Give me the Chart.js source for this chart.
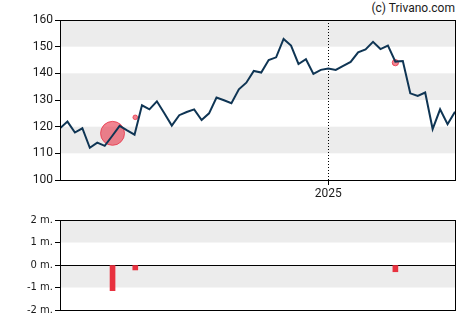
<!DOCTYPE html>
<html>
<head>
<meta charset="utf-8">
<script src="https://cdn.jsdelivr.net/npm/chart.js@4/dist/chart.umd.min.js"></script>
<style>
  body { margin: 0; background: #fff; }
  #wrap { position: relative; width: 470px; height: 325px; }
  #priceBox { position: absolute; left: 0; top: 0; width: 470px; height: 205px; }
  #volBox { position: absolute; left: 0; top: 205px; width: 470px; height: 120px; }
  #credit { position: absolute; right: 15px; top: 1px; font: 12px Roboto, sans-serif; color: #1a1a1a; }
</style>
</head>
<body>
<div id="wrap">
  <div id="credit">(c) Trivano.com</div>
  <div id="priceBox"><canvas id="priceChart"></canvas></div>
  <div id="volBox"><canvas id="volChart"></canvas></div>
</div>
<script>
// weekly closing prices
const prices = [119.4, 121.9, 117.8, 119.4, 112.1, 114.0, 112.8, 116.5, 120.3, 118.6,
  117.0, 128.0, 126.5, 129.5, 125.0, 120.4, 124.3, 125.5, 126.5, 122.5,
  125.0, 130.9, 129.9, 128.8, 134.0, 136.5, 140.9, 140.3, 145.0, 146.0,
  152.9, 150.4, 143.5, 145.3, 139.8, 141.3, 141.8, 141.3, 142.8, 144.3,
  147.9, 149.0, 151.8, 149.1, 150.4, 144.4, 144.6, 132.5, 131.5, 132.8,
  119.1, 126.5, 120.9, 125.6];

const yearTicks = [36.0];
const yearLabels = ["2025"];

// insider trades (week, price, volume in millions)
const tradeWeek = [7.05, 10.1, 45.0];
const tradePrice = [117.5, 123.5, 144.0];
const tradeVolume = [-1.14, -0.22, -0.30];

const priceBands = [[150, 160], [130, 140], [110, 120]];
const volBands = [[1, 2], [-1, 0]];

const bandsPlugin = {
  id: "bands",
  beforeDraw(chart, args, opts) {
    const { ctx, chartArea, scales } = chart;
    ctx.save();
    ctx.fillStyle = "#ececec";
    opts.ranges.forEach(r => {
      const y1 = scales.y.getPixelForValue(r[1]);
      const y0 = scales.y.getPixelForValue(r[0]);
      ctx.fillRect(chartArea.left, y1, chartArea.right - chartArea.left, y0 - y1);
    });
    ctx.restore();
  }
};

const boxPlugin = {
  id: "box",
  afterDraw(chart) {
    const { ctx, chartArea } = chart;
    ctx.save();
    ctx.strokeStyle = "#000";
    ctx.lineWidth = 1;
    ctx.strokeRect(Math.round(chartArea.left) + 0.5, Math.round(chartArea.top) + 0.5,
      Math.round(chartArea.right - chartArea.left), Math.round(chartArea.bottom - chartArea.top));
    ctx.restore();
  }
};

const xMax = prices.length - 1;

new Chart(document.getElementById("priceChart"), {
  type: "line",
  data: {
    datasets: [
      {
        type: "line",
        data: prices.map((v, i) => ({ x: i, y: v })),
        borderColor: "#0f3554",
        borderWidth: 2,
        pointRadius: 0,
        tension: 0,
        order: 0
      },
      {
        type: "bubble",
        data: tradeWeek.map((w, i) => ({ x: w, y: tradePrice[i], r: Math.abs(tradeVolume[i]) * 10.5 })),
        backgroundColor: "rgba(232, 52, 72, 0.6)",
        borderColor: "rgba(232, 52, 72, 0.8)",
        borderWidth: 1,
        order: 1
      }
    ]
  },
  options: {
    animation: false,
    responsive: true,
    maintainAspectRatio: false,
    layout: { padding: { top: 20, right: 15, left: 0, bottom: 0 } },
    plugins: {
      legend: { display: false },
      tooltip: { enabled: false },
      bands: { ranges: priceBands }
    },
    scales: {
      x: {
        type: "linear",
        min: 0,
        max: xMax,
        afterBuildTicks: scale => { scale.ticks = yearTicks.map(v => ({ value: v })); },
        afterFit: scale => { scale.height = 25; },
        ticks: {
          autoSkip: false,
          maxRotation: 0,
          padding: 2,
          color: "#1a1a1a",
          font: { family: "Roboto", size: 12 },
          callback: (v, i) => yearLabels[i]
        },
        grid: { color: "#000", tickColor: "#000", tickLength: 5, lineWidth: 1 },
        border: { color: "#000", width: 1, dash: [1, 2] }
      },
      y: {
        min: 100,
        max: 160,
        afterFit: scale => { scale.width = 60; },
        ticks: {
          stepSize: 10,
          padding: 2,
          color: "#1a1a1a",
          font: { family: "Roboto", size: 12 }
        },
        grid: { drawOnChartArea: false, tickColor: "#000", tickLength: 5 },
        border: { color: "#000", width: 1 }
      }
    }
  },
  plugins: [bandsPlugin, boxPlugin]
});

new Chart(document.getElementById("volChart"), {
  type: "bar",
  data: {
    datasets: [{
      data: tradeWeek.map((w, i) => ({ x: w, y: tradeVolume[i] })),
      backgroundColor: "#e8313f",
      barThickness: 5
    }]
  },
  options: {
    animation: false,
    responsive: true,
    maintainAspectRatio: false,
    layout: { padding: { top: 15, right: 15, left: 0, bottom: 15 } },
    plugins: {
      legend: { display: false },
      tooltip: { enabled: false },
      bands: { ranges: volBands }
    },
    scales: {
      x: { type: "linear", min: 0, max: xMax, offset: false, display: false },
      y: {
        min: -2,
        max: 2,
        afterFit: scale => { scale.width = 60; },
        ticks: {
          stepSize: 1,
          padding: 2,
          color: "#1a1a1a",
          font: { family: "DejaVu Sans", size: 10 },
          callback: v => v + " m."
        },
        grid: {
          color: ctx => ctx.tick && ctx.tick.value === 0 ? "#000" : "rgba(0,0,0,0)",
          tickColor: "#000",
          tickLength: 5
        },
        border: { color: "#000", width: 1 }
      }
    }
  },
  plugins: [bandsPlugin, boxPlugin]
});
</script>
</body>
</html>
